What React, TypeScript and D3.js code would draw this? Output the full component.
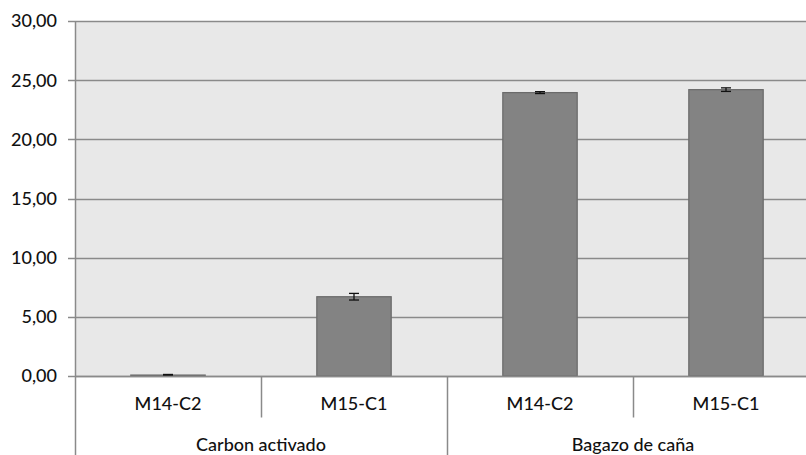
import * as d3 from "d3";
import { useEffect, useRef } from "react";

// datos
const grupos = ["Carbon activado", "Bagazo de caña"];
const muestras = ["M14-C2", "M15-C1"];
const valores = [0.08, 6.7, 23.95, 24.2];
const errores = [0.05, 0.28, 0.08, 0.15];
const ticksY = [0, 5, 10, 15, 20, 25, 30];

const App = () => {
  const ref = useRef<SVGSVGElement>(null);

  const width = 806;
  const height = 455;
  const margin = { top: 21, left: 75, bottom: 79 };
  const plotW = 744; // el area continua fuera de la imagen por la derecha
  const plotH = height - margin.top - margin.bottom;

  useEffect(() => {
    const svg = d3.select(ref.current);
    svg.selectAll("*").remove();

    const filas = grupos.flatMap((g, gi) =>
      muestras.map((m, mi) => ({
        key: `${gi}-${mi}`,
        grupo: g,
        muestra: m,
        valor: valores[gi * muestras.length + mi],
        error: errores[gi * muestras.length + mi],
      }))
    );

    const x = d3
      .scaleBand()
      .domain(filas.map((d) => d.key))
      .range([margin.left, margin.left + plotW])
      .paddingInner(0)
      .paddingOuter(0);
    const y = d3
      .scaleLinear()
      .domain([0, 30])
      .range([margin.top + plotH, margin.top]);

    const font = "Lato, 'Open Sans', sans-serif";
    const txt = "#111";

    // fondo
    svg
      .append("rect")
      .attr("x", margin.left)
      .attr("y", margin.top)
      .attr("width", plotW)
      .attr("height", plotH)
      .attr("fill", "#e8e8e8");

    // lineas de cuadricula
    svg
      .append("g")
      .selectAll("line")
      .data(ticksY)
      .join("line")
      .attr("x1", margin.left - 7)
      .attr("x2", margin.left + plotW)
      .attr("y1", (d) => Math.round(y(d)) + 0.5)
      .attr("y2", (d) => Math.round(y(d)) + 0.5)
      .attr("stroke", "#8a8a8a")
      .attr("stroke-width", 1.5);

    // etiquetas eje Y
    svg
      .append("g")
      .selectAll("text")
      .data(ticksY)
      .join("text")
      .attr("x", margin.left - 18)
      .attr("y", (d) => y(d))
      .attr("dy", "0.36em")
      .attr("text-anchor", "end")
      .attr("font-family", font)
      .attr("font-size", 18)
      .attr("font-weight", 500)
      .attr("fill", txt)
      .text((d) => d.toFixed(2).replace(".", ","));

    // barras
    const bw = x.bandwidth() * 0.4;
    svg
      .append("g")
      .selectAll("rect")
      .data(filas)
      .join("rect")
      .attr("x", (d) => x(d.key)! + (x.bandwidth() - bw) / 2)
      .attr("y", (d) => y(d.valor))
      .attr("width", bw)
      .attr("height", (d) => y(0) - y(d.valor))
      .attr("fill", "#838383")
      .attr("stroke", "#6a6a6a")
      .attr("stroke-width", 1.2);

    // barras de error
    const eg = svg.append("g").attr("stroke", "#111").attr("stroke-width", 1.3);
    filas.forEach((d) => {
      const cx = x(d.key)! + x.bandwidth() / 2;
      const y1 = y(d.valor + d.error);
      const y2 = y(Math.max(0, d.valor - d.error));
      eg.append("line").attr("x1", cx).attr("x2", cx).attr("y1", y1).attr("y2", y2);
      [y1, y2].forEach((yy) =>
        eg.append("line").attr("x1", cx - 5).attr("x2", cx + 5).attr("y1", yy).attr("y2", yy)
      );
    });

    // eje Y
    svg
      .append("line")
      .attr("x1", margin.left + 0.5)
      .attr("x2", margin.left + 0.5)
      .attr("y1", margin.top)
      .attr("y2", height)
      .attr("stroke", "#8a8a8a")
      .attr("stroke-width", 1.5);

    // eje X
    const y0 = Math.round(y(0)) + 0.5;
    svg
      .append("line")
      .attr("x1", margin.left)
      .attr("x2", margin.left + plotW)
      .attr("y1", y0)
      .attr("y2", y0)
      .attr("stroke", "#8a8a8a")
      .attr("stroke-width", 1.5);

    // separadores de muestras y grupos
    filas.forEach((d, i) => {
      if (i === 0) return;
      const xx = Math.round(x(d.key)!) + 0.5;
      const esGrupo = i % muestras.length === 0;
      svg
        .append("line")
        .attr("x1", xx)
        .attr("x2", xx)
        .attr("y1", y0)
        .attr("y2", esGrupo ? height : y0 + 41)
        .attr("stroke", "#8a8a8a")
        .attr("stroke-width", 1.5);
    });

    // etiquetas de muestras
    svg
      .append("g")
      .selectAll("text")
      .data(filas)
      .join("text")
      .attr("x", (d) => x(d.key)! + x.bandwidth() / 2)
      .attr("y", y0 + 33)
      .attr("text-anchor", "middle")
      .attr("font-family", font)
      .attr("font-size", 18)
      .attr("font-weight", 500)
      .attr("fill", txt)
      .text((d) => d.muestra);

    // etiquetas de grupos
    svg
      .append("g")
      .selectAll("text")
      .data(grupos)
      .join("text")
      .attr("x", (g, gi) => {
        const a = x(`${gi}-0`)!;
        const b = x(`${gi}-${muestras.length - 1}`)! + x.bandwidth();
        return (a + b) / 2;
      })
      .attr("y", y0 + 74)
      .attr("text-anchor", "middle")
      .attr("font-family", font)
      .attr("font-size", 18)
      .attr("font-weight", 500)
      .attr("fill", txt)
      .text((g) => g);
  }, []);

  return (
    <svg
      ref={ref}
      width={width}
      height={height}
      style={{ position: "fixed", left: 0, top: 0, background: "#fff" }}
    />
  );
};

export default App;
